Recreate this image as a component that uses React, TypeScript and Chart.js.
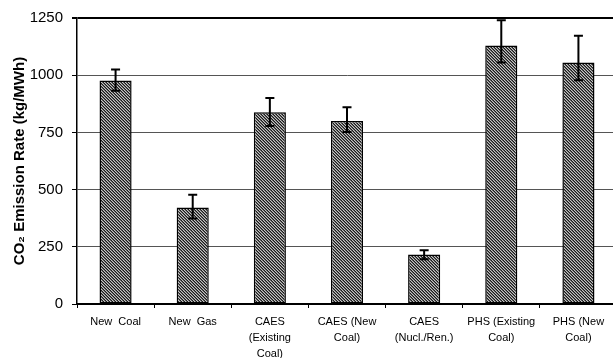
import React, { useEffect, useRef } from "react";
import { Chart, registerables } from "chart.js";

Chart.register(...registerables);

const categories: (string | string[])[] = [
  "New  Coal",
  "New  Gas",
  ["CAES", "(Existing", "Coal)"],
  ["CAES (New", "Coal)"],
  ["CAES", "(Nucl./Ren.)"],
  ["PHS (Existing", "Coal)"],
  ["PHS (New", "Coal)"],
];
const emissionValues = [977, 422, 838, 800, 216, 1130, 1056];
const errorPlus = [48, 55, 62, 60, 19, 110, 116];
const errorMinus = [45, 48, 60, 48, 20, 75, 78];
const yTicks = [0, 250, 500, 750, 1000, 1250];

function makePattern(): CanvasPattern | string {
  const c = document.createElement("canvas");
  c.width = 3;
  c.height = 3;
  const ctx = c.getContext("2d");
  if (!ctx) return "#777";
  const cols = ["#1a1a1a", "#c4c4c4", "#666666"];
  for (let i = 0; i < 3; i++) {
    for (let j = 0; j < 3; j++) {
      ctx.fillStyle = cols[(((i - j) % 3) + 3) % 3];
      ctx.fillRect(i, j, 1, 1);
    }
  }
  return ctx.createPattern(c, "repeat") || "#777";
}

const errorBarPlugin = {
  id: "errorBars",
  afterDatasetsDraw(chart: any) {
    const ctx = chart.ctx;
    const meta = chart.getDatasetMeta(0);
    const y = chart.scales.y;
    ctx.save();
    ctx.strokeStyle = "#000";
    ctx.lineWidth = 2;
    meta.data.forEach((bar: any, i: number) => {
      const v = emissionValues[i];
      const top = y.getPixelForValue(v + errorPlus[i]);
      const bot = y.getPixelForValue(v - errorMinus[i]);
      const x = bar.x;
      ctx.beginPath();
      ctx.moveTo(x, top);
      ctx.lineTo(x, bot);
      ctx.moveTo(x - 4.5, top);
      ctx.lineTo(x + 4.5, top);
      ctx.moveTo(x - 4.5, bot);
      ctx.lineTo(x + 4.5, bot);
      ctx.stroke();
    });
    ctx.restore();
  },
};

export default function App() {
  const ref = useRef<HTMLCanvasElement | null>(null);
  useEffect(() => {
    if (!ref.current) return;
    const pattern = makePattern();
    const chart = new Chart(ref.current, {
      type: "bar",
      data: {
        labels: categories,
        datasets: [
          {
            data: emissionValues,
            backgroundColor: pattern as any,
            borderColor: "#000",
            borderWidth: 1.5,
            borderSkipped: false,
            categoryPercentage: 1,
            barPercentage: 0.416,
          },
        ],
      },
      options: {
        animation: false,
        responsive: true,
        maintainAspectRatio: false,
        layout: { padding: { top: 16, right: 0, left: 0, bottom: 0 } },
        plugins: { legend: { display: false }, tooltip: { enabled: false } },
        scales: {
          x: {
            grid: {
              display: true,
              drawOnChartArea: false,
              drawTicks: true,
              tickLength: 4,
              color: "#000",
              offset: true,
            },
            border: { color: "#000", width: 2 },
            ticks: {
              color: "#000",
              font: { family: "Liberation Sans, Arial", size: 11, lineHeight: 1.45 },
              padding: 6,
              maxRotation: 0,
              autoSkip: false,
            },
            afterFit: (s: any) => {
              s.height = 54;
            },
          },
          y: {
            min: 0,
            max: 1250,
            afterBuildTicks: (s: any) => {
              s.ticks = yTicks.map((v) => ({ value: v }));
            },
            grid: {
              color: (c: any) => (c.tick && c.tick.value === 1250 ? "#000" : "#555"),
              lineWidth: (c: any) => (c.tick && c.tick.value === 1250 ? 2 : 1),
              tickColor: "#000",
              tickLength: 5,
            },
            border: { color: "#000", width: 1.5 },
            ticks: {
              color: "#000",
              font: { family: "Liberation Sans, Arial", size: 15 },
              padding: 9,
              callback: (v: any) => String(v),
            },
            title: {
              display: true,
              text: "CO₂ Emission Rate (kg/MWh)",
              color: "#000",
              font: { family: "Liberation Sans, Arial", size: 15, weight: "bold" },
              padding: { top: 11, bottom: 0 },
            },
            afterFit: (s: any) => {
              s.width = 77;
            },
          },
        },
      },
      plugins: [errorBarPlugin],
    });
    return () => chart.destroy();
  }, []);
  return (
    <div style={{ position: "fixed", left: 0, top: 0, width: 617, height: 358, background: "#fff" }}>
      <canvas ref={ref} />
    </div>
  );
}
